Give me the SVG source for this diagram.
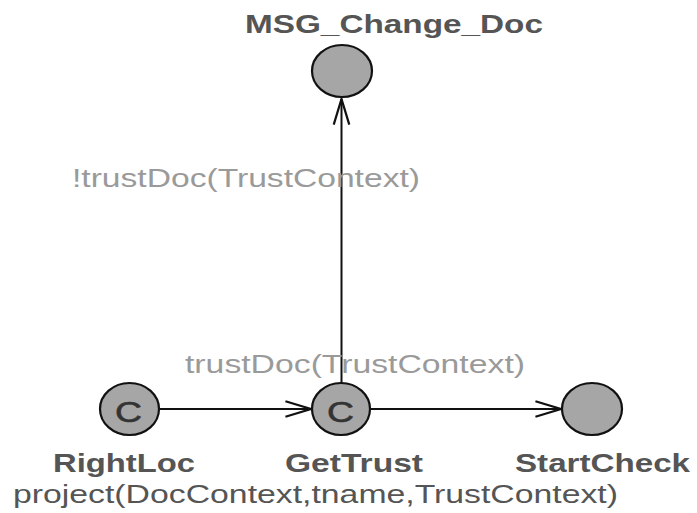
<svg xmlns="http://www.w3.org/2000/svg" width="697" height="513" viewBox="0 0 697 513">
  <style>
    .state { fill: #a6a6a6; stroke: #111; stroke-width: 2.2; }
    .glyph { font-family: "Liberation Sans", Arial, sans-serif; font-size: 29px; fill: #333; text-anchor: middle; stroke: #333; stroke-width: 0.6; }
    .name { font-family: "Liberation Sans", Arial, sans-serif; font-size: 25px; font-weight: bold; fill: #555; }
    .expr { font-family: "Liberation Sans", Arial, sans-serif; font-size: 26px; fill: #555; }
    .guard { font-family: "Liberation Sans", Arial, sans-serif; font-size: 26px; fill: #9a9a9a; }
    .edge { stroke: #111; stroke-width: 2; fill: none; marker-end: url(#open); }
  </style>
  <defs>
    <marker id="open" markerUnits="userSpaceOnUse" markerWidth="30" markerHeight="20" viewBox="-24 -9 26 18" refX="0" refY="0" orient="auto">
      <path d="M-23,-7 L0,0 L-23,7" fill="none" stroke="#111" stroke-width="2"/>
    </marker>
  </defs>

  <!-- transitions -->
  <g id="connectors">
    <line class="edge" x1="159" y1="409" x2="311" y2="409"/>
    <line class="edge" x1="370" y1="409" x2="561" y2="409"/>
    <line class="edge" x1="341.5" y1="383" x2="341.5" y2="99"/>
    <text class="guard" x="72" y="187" textLength="348" lengthAdjust="spacingAndGlyphs">!trustDoc(TrustContext)</text>
    <text class="guard" x="185" y="373" textLength="340" lengthAdjust="spacingAndGlyphs">trustDoc(TrustContext)</text>
  </g>

  <g id="MSG_Change_Doc">
    <ellipse class="state" cx="342" cy="71" rx="30" ry="26"/>
    <text class="name" x="245" y="33" font-size="28" textLength="298" lengthAdjust="spacingAndGlyphs">MSG_Change_Doc</text>
  </g>

  <g id="RightLoc">
    <ellipse class="state" cx="129.5" cy="409" rx="29.5" ry="26"/>
    <text class="glyph" x="128.5" y="422" textLength="27" lengthAdjust="spacingAndGlyphs">C</text>
    <text class="name" x="53" y="472" textLength="142" lengthAdjust="spacingAndGlyphs">RightLoc</text>
    <text class="expr" x="13" y="503" textLength="605" lengthAdjust="spacingAndGlyphs">project(DocContext,tname,TrustContext)</text>
  </g>

  <g id="GetTrust">
    <ellipse class="state" cx="341" cy="409" rx="29" ry="26"/>
    <text class="glyph" x="340.5" y="422" textLength="27" lengthAdjust="spacingAndGlyphs">C</text>
    <text class="name" x="285" y="472" textLength="138" lengthAdjust="spacingAndGlyphs">GetTrust</text>
  </g>

  <g id="StartCheck">
    <ellipse class="state" cx="592" cy="409" rx="30" ry="26"/>
    <text class="name" x="515" y="472" textLength="175" lengthAdjust="spacingAndGlyphs">StartCheck</text>
  </g>
</svg>
